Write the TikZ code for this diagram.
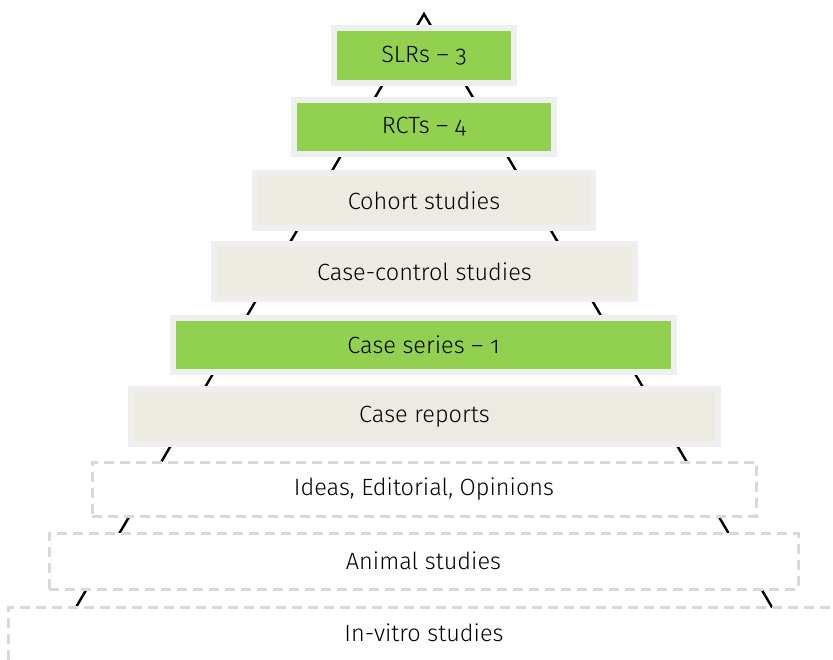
\documentclass[tikz,border=0pt]{standalone}
\usepackage{fontspec}
\IfFontExistsTF{Fira Sans Light}{\setmainfont{Fira Sans Light}[Numbers=OldStyle]}{\setmainfont{Fira Sans}[Numbers=OldStyle]}
\definecolor{lvgreen}{HTML}{92D050}
\definecolor{lvtan}{HTML}{EDEBE1}
\definecolor{lvrim}{HTML}{EFEFEF}
\definecolor{lvdash}{HTML}{D9D9D9}
\tikzset{
  lvfont/.style={font=\fontsize{23.5}{27}\selectfont},
  level/.style={draw=lvrim, line width=6pt, inner sep=0pt, lvfont},
  greenlevel/.style={level, fill=lvgreen},
  tanlevel/.style={level, fill=lvtan},
  dashlevel/.style={draw=lvdash, fill=white, line width=3pt, dash pattern=on 10pt off 6pt, inner sep=0pt, lvfont},
  pyramidline/.style={draw=black, line width=2.4pt}
}
\begin{document}
\begin{tikzpicture}[x=1pt, y=-1pt]
\useasboundingbox (0,0) rectangle (833,659);
\coordinate (apex) at (424,14);
\coordinate (footL) at (48,655);
\coordinate (footR) at (800,655);
\draw[pyramidline] (footL) -- (apex) -- (footR);
\node[greenlevel, minimum width=180pt, minimum height=55pt] (slr) at (424,55.5) {SLRs – 3};
\node[greenlevel, minimum width=260pt, minimum height=54pt] (rct) at (424,127) {RCTs – 4};
\node[tanlevel, minimum width=338pt, minimum height=55pt] (cohort) at (424,200.5) {Cohort studies};
\node[tanlevel, minimum width=421pt, minimum height=55pt] (cc) at (424.5,271.5) {Case-control studies};
\node[greenlevel, minimum width=501pt, minimum height=54pt] (series) at (423.5,345) {Case series – 1};
\node[tanlevel, minimum width=587pt, minimum height=55pt] (reports) at (424.5,416.5) {Case reports};
\node[dashlevel, minimum width=664pt, minimum height=54pt] (ideas) at (424,489) {Ideas, Editorial, Opinions};
\node[dashlevel, minimum width=749pt, minimum height=56pt] (animal) at (423.5,561) {Animal studies};
\node[dashlevel, minimum width=832pt, minimum height=70pt, anchor=north] (vitro) at (424,606) {};
\node[lvfont] (vitrotext) at (424,632.5) {In-vitro studies};
\end{tikzpicture}
\end{document}
